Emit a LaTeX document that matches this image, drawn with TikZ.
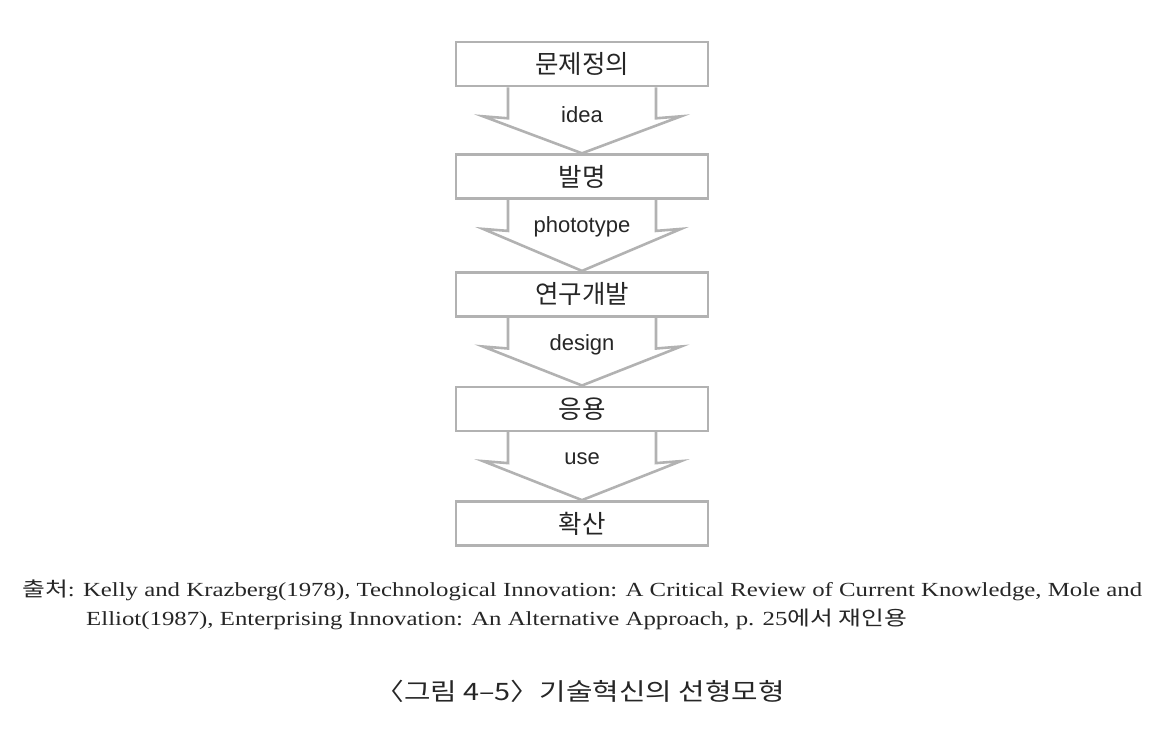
\documentclass[tikz,border=0pt]{standalone}
\usepackage{fontspec}
\setmainfont{Liberation Serif}
\newfontfamily\kr{Noto Sans CJK KR}
\newfontfamily\arial{Liberation Sans}
\usepackage{tikz}
\usetikzlibrary{positioning,calc}

\begin{document}
\begin{tikzpicture}[
    x=1pt, y=-1pt,
    stage/.style={rectangle, draw=gray!60, line width=2.6pt, minimum width=252pt, minimum height=44pt, inner sep=0pt, text=black!85, font=\kr\fontsize{25.5}{28}\selectfont},
    flowarrow/.style={draw=gray!60, line width=2.6pt, line join=miter},
    flowlabel/.style={text=black!85, font=\arial\fontsize{22}{24}\selectfont},
    source/.style={anchor=base west, inner sep=0pt, xscale=1.24, transform shape, text=black!85, font=\fontsize{20}{24}\selectfont},
]
\useasboundingbox (0,0) rectangle (1168,748);

% Stages of the linear model
\node[stage] (problem) at (582,64) {문제정의};
\node[stage, below=66pt of problem] (invention) {발명};
\node[stage, below=71pt of invention] (rnd) {연구개발};
\node[stage, below=68pt of rnd] (applied) {응용};
\node[stage, below=68pt of applied] (diffusion) {확산};

% Block arrows between the stages
\foreach \a/\b/\t in {problem/invention/idea, invention/rnd/phototype, rnd/applied/design, applied/diffusion/use} {
  \draw[flowarrow] ($(\a.south)+(-74,0)$) -- ($(\a.south)+(-74,31)$) -- ($(\a.south)+(-99,29)$)
    -- (\b.north) -- ($(\a.south)+(99,29)$) -- ($(\a.south)+(74,31)$) -- ($(\a.south)+(74,0)$);
  \node[flowlabel] at ($(\a.south)+(0,27)$) {\t};
}

% Source and caption
\node[source] (source1) at (22,596)
  {{\kr 출처}: Kelly and Krazberg(1978), Technological Innovation: A Critical Review of Current Knowledge, Mole and};
\node[source] (source2) at (86,625)
  {Elliot(1987), Enterprising Innovation: An Alternative Approach, p. 25{\kr 에서 재인용}};
\node[xscale=1.2, transform shape, text=black!85, font=\kr\fontsize{24}{28}\selectfont] (caption) at (580,691) {〈그림 4–5〉기술혁신의 선형모형};
\end{tikzpicture}
\end{document}
